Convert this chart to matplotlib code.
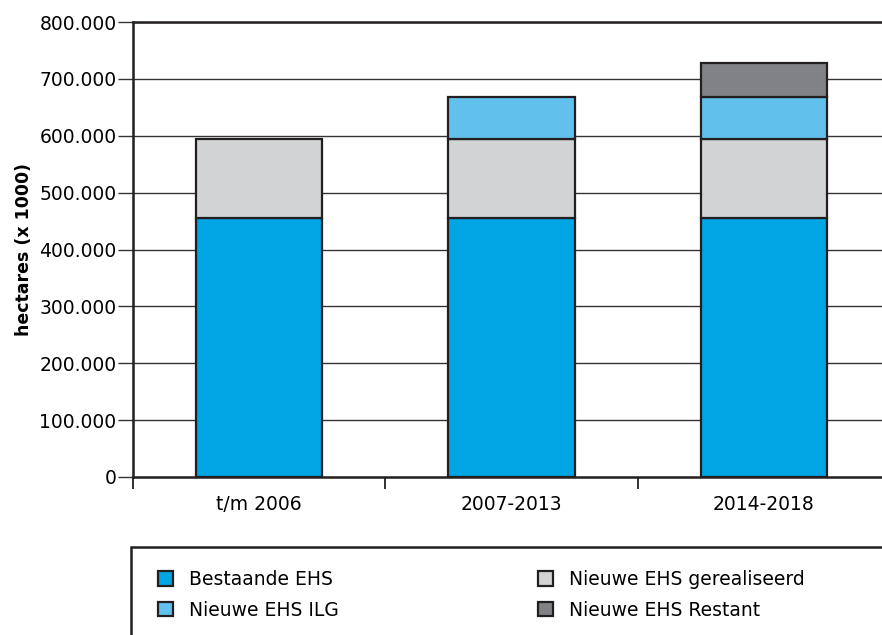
import matplotlib.pyplot as plt
from matplotlib.patches import Rectangle
import numpy as np

categories = ['t/m 2006', '2007-2013', '2014-2018']
bestaande = [455, 455, 455]
gerealiseerd = [140, 140, 140]
ilg = [0, 73, 73]
restant = [0, 0, 60]

series = [
    ('Bestaande EHS', bestaande, '#00a5e3'),
    ('Nieuwe EHS gerealiseerd', gerealiseerd, '#d1d3d4'),
    ('Nieuwe EHS ILG', ilg, '#62c0ec'),
    ('Nieuwe EHS Restant', restant, '#808285'),
]
edge = '#231f20'
fs = 13.5

plt.rcParams['font.family'] = ['DejaVu Sans']

fig = plt.figure(figsize=(8.82, 6.35), dpi=100)
ax = fig.add_axes([133 / 882, 158 / 635, 757 / 882, 455 / 635])

x = np.arange(len(categories))
bottom = np.zeros(len(categories))
handles = {}
for name, vals, color in series:
    vals = np.array(vals, dtype=float)
    mask = vals > 0
    b = ax.bar(x[mask], vals[mask], width=0.5, bottom=bottom[mask], color=color,
               edgecolor=edge, linewidth=1.6, zorder=3, label=name)
    handles[name] = b
    bottom += vals

ax.set_xlim(-0.5, 2.5)
ax.set_ylim(0, 800)
yt = np.arange(0, 801, 100)
ax.set_yticks(yt)
ax.set_yticklabels(['0' if v == 0 else f'{v}.000' for v in yt], fontsize=fs)
for v in yt[1:]:
    ax.axhline(v, color='#333333', linewidth=1, zorder=1)

ax.set_xticks(x)
ax.set_xticklabels(categories, fontsize=fs)
ax.tick_params(axis='x', length=0, pad=13)
ax.set_xticks([-0.5, 0.5, 1.5, 2.5], minor=True)
ax.tick_params(axis='x', which='minor', length=8.6, width=1.3, color=edge)
ax.tick_params(axis='y', length=10.8, width=1, color='#333333', pad=1)

for s in ['left', 'top', 'bottom', 'right']:
    ax.spines[s].set_linewidth(1.8)
    ax.spines[s].set_color(edge)

ax.set_ylabel('hectares (x 1000)', fontsize=12.5, fontweight='bold')
ax.yaxis.set_label_coords(-0.132, 0.5)

# legend box
fig.add_artist(Rectangle((131 / 882, -0.1), 0.9, (635 - 547) / 635 + 0.1,
                         transform=fig.transFigure, fill=False,
                         edgecolor=edge, linewidth=1.8))
order = ['Bestaande EHS', 'Nieuwe EHS ILG', 'Nieuwe EHS gerealiseerd', 'Nieuwe EHS Restant']
leg = fig.legend([handles[n] for n in order], order, ncol=2, frameon=False,
                 loc='upper left', bbox_to_anchor=(141 / 882, 1 - 553 / 635),
                 fontsize=fs, handlelength=0.8, handleheight=0.8,
                 columnspacing=10.64, labelspacing=0.62, handletextpad=0.85)

fig.savefig('out.png', dpi=100)
